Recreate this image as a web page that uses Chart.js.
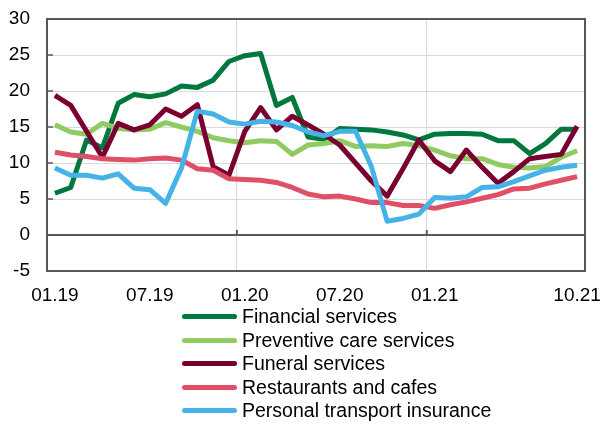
<!DOCTYPE html>
<html><head><meta charset="utf-8">
<script src="https://cdn.jsdelivr.net/npm/chart.js@4.4.1/dist/chart.umd.min.js"></script>
<style>
html,body{margin:0;padding:0;background:#fff;}
#wrap{position:relative;width:601px;height:424px;overflow:hidden;}
#legend{position:absolute;left:182px;top:305px;font-family:"Liberation Sans",Arial,sans-serif;font-size:19.5px;color:#000;}
.item{display:flex;align-items:center;height:23.5px;white-space:nowrap;}
.swatch{width:55px;height:5px;border-radius:3px;margin-right:5px;flex:none;}
</style></head><body>
<div id="wrap"><canvas id="c" width="601" height="424"></canvas><div id="legend"></div></div>
<script>
const categories = ['01.19','02.19','03.19','04.19','05.19','06.19','07.19','08.19','09.19','10.19','11.19','12.19',
  '01.20','02.20','03.20','04.20','05.20','06.20','07.20','08.20','09.20','10.20','11.20','12.20',
  '01.21','02.21','03.21','04.21','05.21','06.21','07.21','08.21','09.21','10.21'];
const shownTicks = ['01.19','07.19','01.20','07.20','01.21','10.21'];
const gridAt = ['01.20','01.21'];
const yTicks = [-5, 0, 5, 10, 15, 20, 25, 30];

const financial = [5.8, 6.6, 13.2, 12.1, 18.3, 19.5, 19.2, 19.6, 20.7, 20.5, 21.5, 24.1, 24.9, 25.2, 18.0, 19.1, 13.6, 13.3, 14.8, 14.7, 14.6, 14.3, 13.9, 13.2, 14.0, 14.1, 14.1, 14.0, 13.1, 13.1, 11.3, 12.7, 14.7, 14.7];
const preventive = [15.3, 14.3, 14.0, 15.5, 14.8, 14.6, 14.7, 15.6, 15.0, 14.4, 13.5, 13.1, 12.8, 13.1, 13.0, 11.2, 12.5, 12.7, 13.1, 12.3, 12.4, 12.3, 12.7, 12.4, 11.8, 11.0, 10.6, 10.6, 9.8, 9.4, 9.3, 9.5, 10.8, 11.7];
const funeral = [19.4, 18.0, 14.4, 10.8, 15.5, 14.6, 15.3, 17.5, 16.5, 18.1, 9.5, 8.3, 14.4, 17.7, 14.6, 16.5, 15.3, 14.0, 12.5, 10.0, 7.5, 5.4, 9.2, 13.2, 10.3, 8.8, 11.8, 9.4, 7.2, 8.8, 10.6, 10.9, 11.2, 15.1];
const restaurants = [11.5, 11.1, 10.9, 10.6, 10.5, 10.4, 10.6, 10.7, 10.4, 9.2, 9.0, 7.8, 7.7, 7.6, 7.3, 6.6, 5.7, 5.3, 5.4, 5.0, 4.5, 4.5, 4.1, 4.1, 3.7, 4.2, 4.6, 5.1, 5.6, 6.4, 6.5, 7.1, 7.6, 8.1];
const transport = [9.3, 8.3, 8.3, 7.9, 8.5, 6.5, 6.3, 4.4, 9.3, 17.2, 16.8, 15.7, 15.4, 15.8, 15.7, 15.2, 14.3, 13.8, 14.4, 14.4, 9.5, 1.9, 2.3, 2.9, 5.2, 5.1, 5.3, 6.6, 6.7, 7.4, 8.2, 9.0, 9.4, 9.7];

const seriesNames = ['Financial services','Preventive care services','Funeral services','Restaurants and cafes','Personal transport insurance'];
const seriesData = [financial, preventive, funeral, restaurants, transport];
const seriesColors = ['#00773C','#8FCB62','#7A0030','#E04F68','#45B3E7'];

const FONT = {family: '"Liberation Sans", Arial, sans-serif', size: 19};
const AXIS = '#595959';

const frame = {
  id: 'frame',
  beforeDatasetsDraw(chart) {
    const {ctx, chartArea: a, scales} = chart;
    ctx.save();
    ctx.strokeStyle = AXIS;
    ctx.lineWidth = 2;
    ctx.strokeRect(a.left, a.top, a.right - a.left, a.bottom - a.top);
    ctx.lineWidth = 1.5;
    scales.y.ticks.forEach(t => {
      const y = scales.y.getPixelForValue(t.value);
      ctx.beginPath(); ctx.moveTo(a.left, y); ctx.lineTo(a.left + 6, y); ctx.stroke();
    });
    const y0 = scales.y.getPixelForValue(0);
    ctx.lineWidth = 2;
    gridAt.forEach(l => {
      const i = categories.indexOf(l);
      const x = (scales.x.getPixelForValue(i) + scales.x.getPixelForValue(i - 1)) / 2;
      ctx.beginPath(); ctx.moveTo(x, y0); ctx.lineTo(x, y0 - 5); ctx.stroke();
    });
    ctx.restore();
  }
};

const chart = new Chart(document.getElementById('c'), {
  type: 'line',
  data: {
    labels: categories,
    datasets: seriesData.map((d, i) => ({
      label: seriesNames[i],
      data: d,
      borderColor: seriesColors[i],
      backgroundColor: seriesColors[i],
      borderWidth: 5,
      pointRadius: 0,
      tension: 0,
      borderJoinStyle: 'round',
      borderCapStyle: 'butt',
      order: seriesData.length - i
    }))
  },
  options: {
    responsive: false,
    animation: false,
    devicePixelRatio: 1,
    layout: {padding: {top: 19, right: 16, bottom: 117, left: 0}},
    plugins: {legend: {display: false}, tooltip: {enabled: false}},
    scales: {
      x: {
        offset: true,
        grid: {
          offset: true,
          drawTicks: false,
          color: c => gridAt.includes(categories[c.index]) ? '#D9D9D9' : 'rgba(0,0,0,0)',
          lineWidth: 1
        },
        border: {display: false},
        ticks: {
          autoSkip: false, maxRotation: 0, minRotation: 0, padding: 13,
          font: FONT, color: '#000',
          callback: (v, i) => shownTicks.includes(categories[i]) ? categories[i] : ''
        },
        afterFit: s => { s.height = 36; s.paddingLeft = 0; s.paddingRight = 0; }
      },
      y: {
        min: -5, max: 30,
        afterBuildTicks: s => { s.ticks = yTicks.map(v => ({value: v})); },
        grid: {
          drawTicks: false,
          color: c => c.tick && c.tick.value === 0 ? AXIS : '#D9D9D9',
          lineWidth: c => c.tick && c.tick.value === 0 ? 2 : 1
        },
        border: {display: false},
        ticks: {padding: 17, font: FONT, color: '#000'},
        afterFit: s => { s.width = 47; s.paddingTop = 0; s.paddingBottom = 0; }
      }
    }
  },
  plugins: [frame]
});

const legend = document.getElementById('legend');
chart.data.datasets.forEach(ds => {
  const row = document.createElement('div');
  row.className = 'item';
  const sw = document.createElement('span');
  sw.className = 'swatch';
  sw.style.background = ds.borderColor;
  const tx = document.createElement('span');
  tx.textContent = ds.label;
  row.appendChild(sw); row.appendChild(tx);
  legend.appendChild(row);
});
</script>
</body></html>
